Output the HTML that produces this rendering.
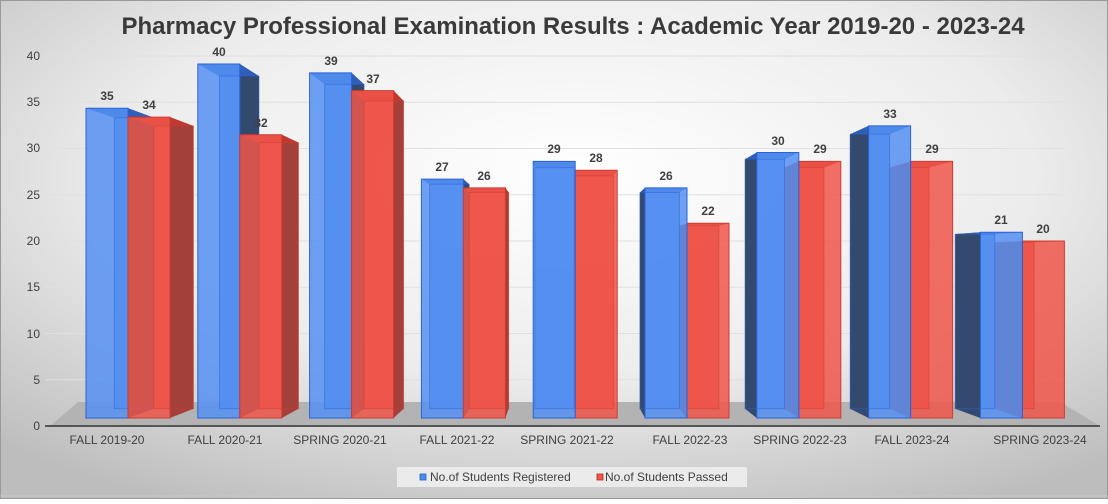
<!DOCTYPE html>
<html><head><meta charset="utf-8"><style>
html,body{margin:0;padding:0}
body{width:1108px;height:499px;overflow:hidden;font-family:"Liberation Sans",sans-serif}
</style></head><body>
<svg id="s" width="1108" height="499" xmlns="http://www.w3.org/2000/svg">
<defs>
<radialGradient id="bg" cx="0.52" cy="0.35" r="0.75">
<stop offset="0" stop-color="#ffffff"/><stop offset="0.55" stop-color="#ececec"/><stop offset="1" stop-color="#bdbdbd"/>
</radialGradient>
</defs>
<rect x="0" y="0" width="1108" height="499" fill="url(#bg)"/>
<rect x="0.5" y="0.5" width="1107" height="498" fill="none" stroke="#9a9a9a"/>
<text x="573" y="34" text-anchor="middle" font-size="24" font-weight="bold" fill="#3a3a3a">Pharmacy Professional Examination Results : Academic Year 2019-20 - 2023-24</text>
<g stroke="#e0e0e0" stroke-width="1">
<line x1="45" y1="379.75" x2="1065" y2="379.75"/><line x1="45" y1="333.5" x2="1065" y2="333.5"/>
<line x1="45" y1="287.25" x2="1065" y2="287.25"/><line x1="45" y1="241" x2="1065" y2="241"/>
<line x1="45" y1="194.75" x2="1065" y2="194.75"/><line x1="45" y1="148.5" x2="1065" y2="148.5"/>
<line x1="45" y1="102.25" x2="1065" y2="102.25"/><line x1="45" y1="56" x2="1065" y2="56"/>
</g>
<g font-size="12" fill="#404040" text-anchor="end">
<text x="40" y="430">0</text><text x="40" y="384">5</text><text x="40" y="338">10</text>
<text x="40" y="291">15</text><text x="40" y="245">20</text><text x="40" y="199">25</text>
<text x="40" y="152">30</text><text x="40" y="106">35</text><text x="40" y="60">40</text>
</g>
<polygon points="50,426 1100,426 1060,402 78,402" fill="#b3b3b3"/>
<line x1="45" y1="426" x2="1100" y2="426" stroke="#555" stroke-width="2"/>
<g id="bars"></g>
<g font-size="12" font-weight="bold" fill="#404040" text-anchor="middle">
<text x="107" y="100">35</text><text x="149" y="109">34</text>
<text x="219" y="56">40</text><text x="261" y="127">32</text>
<text x="331" y="65">39</text><text x="373" y="83">37</text>
<text x="442" y="171">27</text><text x="484" y="180">26</text>
<text x="554" y="153">29</text><text x="596" y="162">28</text>
<text x="666" y="180">26</text><text x="708" y="215">22</text>
<text x="778" y="145">30</text><text x="820" y="153">29</text>
<text x="890" y="118">33</text><text x="932" y="153">29</text>
<text x="1001" y="224">21</text><text x="1043" y="233">20</text>
</g>
<g font-size="12" fill="#404040" text-anchor="middle">
<text x="107" y="444">FALL 2019-20</text><text x="225" y="444">FALL 2020-21</text>
<text x="340" y="444">SPRING 2020-21</text><text x="457" y="444">FALL 2021-22</text>
<text x="567" y="444">SPRING 2021-22</text><text x="690" y="444">FALL 2022-23</text>
<text x="800" y="444">SPRING 2022-23</text><text x="912" y="444">FALL 2023-24</text>
<text x="1040" y="444">SPRING 2023-24</text>
</g>
<rect x="397" y="467" width="350" height="20" fill="#ebebeb"/>
<rect x="420" y="474" width="6" height="6" fill="#4f8cf0" stroke="#2a5bc0" stroke-width="0.8"/>
<text x="430" y="481" font-size="12" fill="#404040">No.of Students Registered</text>
<rect x="597" y="474" width="6" height="6" fill="#f0564a" stroke="#b02a22" stroke-width="0.8"/>
<text x="605" y="481" font-size="12" fill="#404040">No.of Students Passed</text>
<line x1="0" y1="496" x2="1108" y2="496" stroke="#c8c8c8"/>
</svg>
<script>
(function(){
var B=[35,40,39,27,29,26,30,33,21],R=[34,32,37,26,28,22,29,29,20];
var g=document.getElementById('bars'),ns='http://www.w3.org/2000/svg';
var VX=560,VY=265,K=0.94,BOT=418,W=42,S=8.85;
function P(x,y){return [VX+(x-VX)*K,VY+(y-VY)*K];}
function poly(pts,fill,stroke,op){var p=document.createElementNS(ns,'polygon');
p.setAttribute('points',pts.map(function(a){return a[0].toFixed(1)+','+a[1].toFixed(1)}).join(' '));
p.setAttribute('fill',fill);if(stroke){p.setAttribute('stroke',stroke);p.setAttribute('stroke-width','1');}
if(op)p.setAttribute('fill-opacity',op);g.appendChild(p);}
function bar(x,v,blue){
 var yt=BOT-v*S,x2=x+W;
 var f=[[x,yt],[x2,yt],[x2,BOT],[x,BOT]];
 var b=f.map(function(a){return P(a[0],a[1]);});
 var side=blue?'#34496e':'#a3403a',top=blue?'#2f5fb8':'#c0392f',fr=blue?'#5590f2':'#f0564a',st=blue?'#2a62d8':'#d03a30';
 poly(b,blue?'#4a7fe0':'#e04a40',null,'0.9');
 if(x2<VX){poly([f[1],b[1],b[2],f[2]],side,null);}
 else if(x>VX){poly([f[0],b[0],b[3],f[3]],side,null);}
 poly([f[0],f[1],b[1],b[0]],top,null);
 poly(f,fr,st,'0.85');
 var l=document.createElementNS(ns,'polyline');
 l.setAttribute('points',b.map(function(a){return a[0].toFixed(1)+','+a[1].toFixed(1)}).join(' ')+' '+b[0][0].toFixed(1)+','+b[0][1].toFixed(1));
 l.setAttribute('fill','none');l.setAttribute('stroke',st);l.setAttribute('stroke-opacity','0.5');g.appendChild(l);
}
for(var i=0;i<9;i++){var x0=86+111.8*i;
 if(x0+W<VX){bar(x0,B[i],true);bar(x0+W,R[i],false);}
 else{bar(x0+W,R[i],false);bar(x0,B[i],true);}
}
})();
</script>
</body></html>
